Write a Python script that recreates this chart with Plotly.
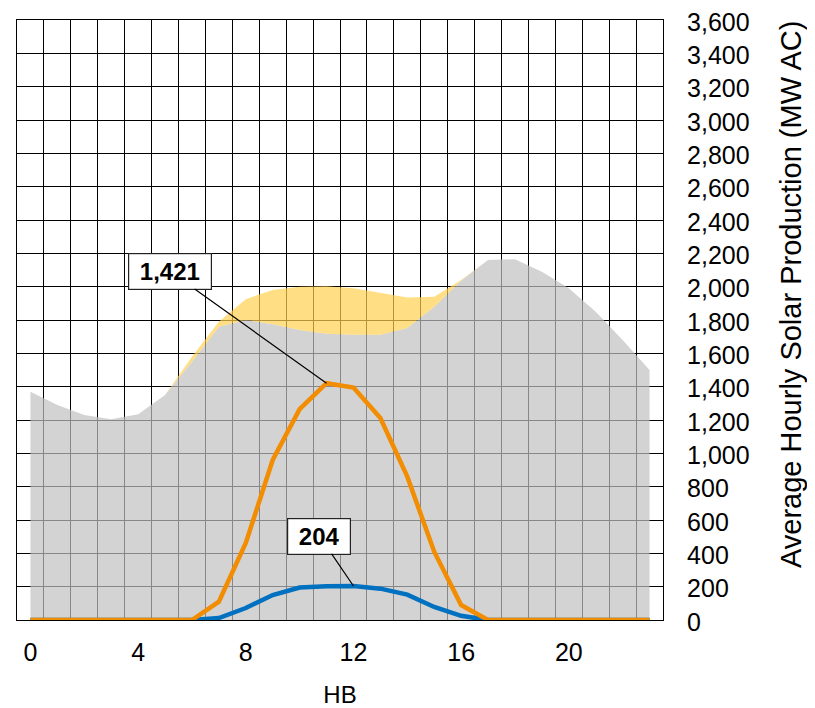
import plotly.graph_objects as go

hours = list(range(24))
gray_area = [1370, 1290, 1230, 1205, 1235, 1350, 1550, 1760, 1800, 1775, 1740, 1718,
             1712, 1712, 1752, 1880, 2035, 2160, 2165, 2090, 1990, 1850, 1680, 1500]
yellow_top = [1370, 1290, 1230, 1205, 1235, 1350, 1580, 1790, 1925, 1980, 2000, 2003,
              1990, 1962, 1935, 1940, 2040, 2160, 2165, 2090, 1990, 1850, 1680, 1500]
orange_vals = [0, 0, 0, 0, 0, 0, 0, 110, 462, 960, 1265, 1421,
               1395, 1212, 860, 410, 90, 0, 0, 0, 0, 0, 0, 0]
blue_vals = [0, 0, 0, 0, 0, 0, 0, 12, 72, 150, 195, 203,
             204, 188, 152, 78, 25, 0, 0, 0, 0, 0, 0, 0]
x_ticks = [0, 4, 8, 12, 16, 20]
y_ticks = list(range(0, 3601, 200))
y_title = "Average Hourly Solar Production (MW AC)"
x_title = "HB"

FONT = "Liberation Sans, Arial, sans-serif"

fig = go.Figure()
fig.add_trace(go.Scatter(x=hours, y=gray_area, mode="lines", line=dict(width=0, color="rgba(0,0,0,0)"),
                         fill="tozeroy", fillcolor="rgba(192,192,192,0.7)", showlegend=False,
                         hoverinfo="skip"))
fig.add_trace(go.Scatter(x=hours, y=yellow_top, mode="lines", line=dict(width=0, color="rgba(0,0,0,0)"),
                         fill="tonexty", fillcolor="rgba(255,208,80,0.7)", showlegend=False,
                         hoverinfo="skip"))
fig.add_trace(go.Scatter(x=hours, y=blue_vals, mode="lines", line=dict(width=4.5, color="#0070C0"),
                         showlegend=False))
fig.add_trace(go.Scatter(x=hours, y=orange_vals, mode="lines", line=dict(width=4.5, color="#F28C00"),
                         showlegend=False))

io = orange_vals.index(max(orange_vals))
ib = blue_vals.index(max(blue_vals))
fig.add_annotation(x=hours[io], y=orange_vals[io], text=f"\u00a0{orange_vals[io]:,}\u00a0", showarrow=True,
                   arrowhead=0, arrowwidth=1.2, arrowcolor="black", ax=-157, ay=-112,
                   bgcolor="white", bordercolor="#222", borderwidth=1.2, borderpad=4,
                   font=dict(family=FONT, size=24, color="black", weight="bold"))
fig.add_annotation(x=hours[ib], y=blue_vals[ib], text=f"\u00a0{blue_vals[ib]:,}\u00a0", showarrow=True,
                   arrowhead=0, arrowwidth=1.2, arrowcolor="black", ax=-34, ay=-50,
                   bgcolor="white", bordercolor="#222", borderwidth=1.2, borderpad=4,
                   font=dict(family=FONT, size=24, color="black", weight="bold"))
# right-hand axis title (placed as annotation so it can sit slightly above centre like the reference)
fig.add_annotation(xref="paper", yref="paper", x=1, y=0.5, xanchor="center", yanchor="middle",
                   xshift=128, yshift=25, textangle=-90, showarrow=False, text=y_title,
                   font=dict(family=FONT, size=29, color="black"))

fig.update_layout(
    width=807, height=700,
    margin=dict(l=9, r=152, t=12, b=88, autoexpand=False),
    paper_bgcolor="white", plot_bgcolor="white",
    font=dict(family=FONT, size=24, color="black"),
    showlegend=False,
)
fig.update_xaxes(
    range=[-0.5, 23.5], tickvals=x_ticks, ticktext=[str(v) for v in x_ticks],
    showgrid=False, zeroline=False, ticks="", automargin=False,
    minor=dict(showgrid=True, tick0=0.5, dtick=1, gridcolor="black", gridwidth=1.2, ticks=""),
    showline=True, mirror=True, linecolor="black", linewidth=1.2,
    ticklabelstandoff=10,
    title=dict(text=x_title, font=dict(family=FONT, size=24), standoff=34),
    tickfont=dict(family=FONT, size=25),
)
fig.update_yaxes(
    range=[0, 3600], tickvals=y_ticks, ticktext=[f"{v:,}" for v in y_ticks], side="right",
    showgrid=True, gridcolor="black", gridwidth=1.2, zeroline=False, ticks="", automargin=False,
    showline=True, mirror=True, linecolor="black", linewidth=1.2,
    ticklabelstandoff=18, ticklabelshift=2, ticklabeloverflow="allow",
    tickfont=dict(family=FONT, size=25),
)

fig.write_html("out.html")
